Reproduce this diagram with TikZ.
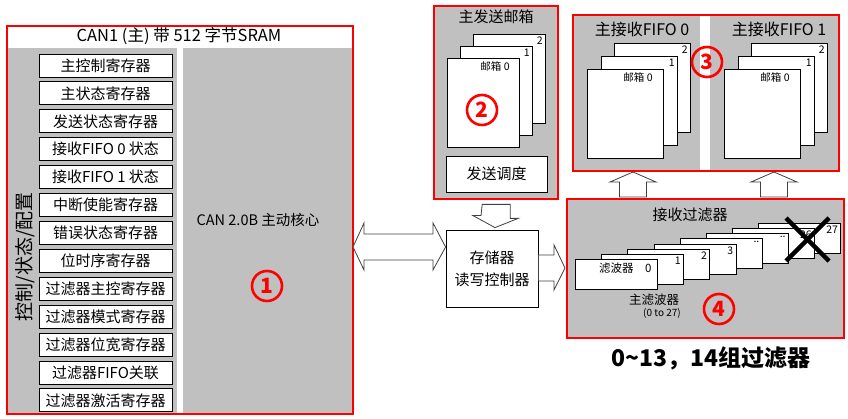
\documentclass[tikz,border=0pt]{standalone}
\usepackage{fontspec}
\setmainfont{Noto Sans CJK SC}
\usetikzlibrary{positioning,calc}
\definecolor{panelgray}{RGB}{192,192,192}
\definecolor{framered}{RGB}{255,0,0}
\newcommand{\fsz}[1]{\fontsize{#1}{#1}\selectfont}

\begin{document}
\begin{tikzpicture}[
    x=1pt, y=-1pt,
    every node/.style={inner sep=0pt, font=\fsz{15}},
    panel/.style={draw=framered, line width=2.4pt, anchor=north west},
    regbox/.style={draw=black, fill=white, line width=0.8pt, minimum width=133pt, minimum height=23pt},
    page/.style={draw=black, fill=white, line width=0.8pt, anchor=north west, minimum width=#1, minimum height=89pt},
    page/.default=72pt,
    card/.style={draw=black, fill=white, line width=0.8pt, anchor=north west, minimum width=82pt, minimum height=30pt},
    tag/.style={anchor=north east, font=\fsz{10.5}},
    fatarrow/.style={draw=black!75, fill=white, line width=0.8pt},
    numcircle/.style={circle, draw=framered, line width=2.6pt, minimum size=30pt, text=framered, font=\fsz{21}\bfseries}
]
\fill[white] (0,0) rectangle (848,419);
\useasboundingbox (0,0) rectangle (848,419);

% CAN1 block: registers and core
\fill[panelgray] (6,48) rectangle (177,413);
\fill[panelgray] (183,48) rectangle (352,413);
\node[panel, minimum width=346pt, minimum height=388pt] (can) at (6,25) {};
\node[font=\fsz{16.5}] (cantitle) at (179,36) {CAN1 (主) 带 512 字节SRAM};
\foreach \reg [count=\i from 0] in {主控制寄存器,主状态寄存器,发送状态寄存器,接收FIFO 0 状态,接收FIFO 1 状态,中断使能寄存器,错误状态寄存器,位时序寄存器,过滤器主控寄存器,过滤器模式寄存器,过滤器位宽寄存器,过滤器FIFO关联,过滤器激活寄存器}
  \node[regbox] (reg\i) at (105.5, 65.5+27.9*\i) {\reg};
\node[rotate=90, font=\fsz{19}] (side) at (25,257) {控制/状态/配置};
\node[font=\fsz{14.5}] (core) at (258,220) {CAN 2.0B 主动核心};
\node[numcircle] (n1) at (267,286) {1};

% transmit mailboxes
\fill[panelgray] (433,5) rectangle (557,198);
\node[panel, minimum width=124pt, minimum height=193pt] (txbox) at (433,5) {};
\node (txtitle) at (496,17) {主发送邮箱};
\node[page] (tx2) at (473,34) {};
\node[tag] (txl2) at ([shift={(-3,3)}]tx2.north east) {2};
\node[page] (tx1) at (460,46) {};
\node[tag] (txl1) at ([shift={(-3,3)}]tx1.north east) {1};
\node[page] (tx0) at (447,58) {};
\node[tag] (txl0) at ([shift={(-10,3)}]tx0.north east) {邮箱 0};
\node[numcircle] (n2) at (482,110) {2};
\node[draw, fill=white, line width=0.8pt, minimum width=101pt, minimum height=36pt] (sched) at (496.5,174) {发送调度};

% memory controller
\node[draw, fill=white, line width=0.8pt, minimum width=92pt, minimum height=77pt, align=center, font={\fontsize{15}{22}\selectfont}] (ctrl) at (492,268.5) {存储器\\读写控制器};

% receive FIFOs
\fill[panelgray] (572,14) rectangle (700,170);
\fill[panelgray] (710,14) rectangle (838,170);
\node[panel, minimum width=266pt, minimum height=156pt] (fifo) at (572,14) {};
\foreach \f/\dx in {0/0,1/137} {
  \node[font=\fsz{16}] (fifotitle\f) at (642+\dx,29) {主接收FIFO \f};
  \node[page=76pt] (rx\f b) at (614+\dx,43) {};
  \node[tag] at ([shift={(-3,3)}]rx\f b.north east) {2};
  \node[page=76pt] (rx\f a) at (601+\dx,56) {};
  \node[tag] at ([shift={(-3,3)}]rx\f a.north east) {1};
  \node[page=76pt] (rx\f) at (587+\dx,69) {};
  \node[tag] at ([shift={(-11,3)}]rx\f.north east) {邮箱 0};
}
\node[numcircle] (n3) at (707,62) {3};

% receive filters
\node[panel, fill=panelgray, minimum width=277pt, minimum height=139pt] (filt) at (566,198) {};
\node (filttitle) at (690,215) {接收过滤器};
\foreach \i/\lbl in {7/27,6/26,5/..,4/..,3/3,2/2,1/1} {
  \node[card] (card\i) at (575+26.2*\i, 259-5.15*\i) {};
  \node[tag] (cardlbl\i) at ([shift={(-3,3)}]card\i.north east) {\lbl};
}
\node[card] (card0) at (575,259) {};
\node[tag, font=\fsz{11.5}] (cardlbl0) at ([shift={(-6,4)}]card0.north east) {滤波器\quad 0};
\draw[line width=4.5pt] (786,218) -- (829,261);
\draw[line width=4.5pt] (829,218) -- (786,261);
\node[font=\fsz{12.5}] (mainfilt) at (654,300) {主滤波器};
\node[font=\fsz{10}] (range) at (662,313) {(0 to 27)};
\node[numcircle] (n4) at (719,309) {4};
\node[font=\fsz{23}\bfseries] (groups) at (711,358) {0\textasciitilde 13，14组过滤器};

% block arrows
\draw[fatarrow] ($(txbox.south)+(-14,4)$) -- ++(28,0) -- ++(0,14) -- ++(8,0)
  -- ($(ctrl.north)+(3,-2)$) -- ++(-22,-12) -- ++(8,0) -- cycle;
\draw[fatarrow] (353,247) -- (364,223) -- (364,234) -- (433,234) -- (433,223)
  -- (ctrl.west |- 0,247) -- (433,270) -- (433,260) -- (364,260) -- (364,270) -- cycle;
\draw[fatarrow] (ctrl.east |- 0,255) -- (554,255) -- (554,245) -- (565,268)
  -- (554,290) -- (554,281) -- (ctrl.east |- 0,281) -- cycle;
\foreach \cx in {633,774}
  \draw[fatarrow] (\cx-13.5,197) -- (\cx-13.5,182) -- (\cx-23,182) -- (\cx,172)
    -- (\cx+23,182) -- (\cx+13.5,182) -- (\cx+13.5,197) -- cycle;

\end{tikzpicture}
\end{document}
